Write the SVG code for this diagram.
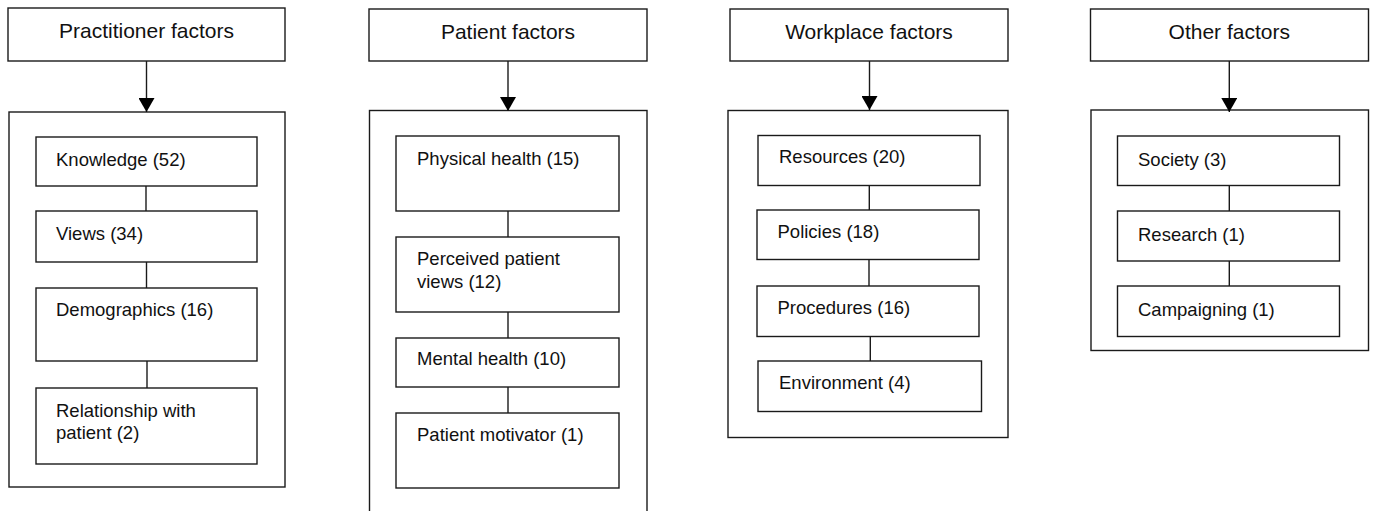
<svg xmlns="http://www.w3.org/2000/svg" width="1373" height="511" viewBox="0 0 1373 511">
<style>
rect{fill:#fff;stroke:#1a1a1a;stroke-width:1.4}
.hd{font-family:"Liberation Sans",Arial,sans-serif;font-size:21px;fill:#111;text-anchor:middle}
.it{font-family:"Liberation Sans",Arial,sans-serif;font-size:18.5px;fill:#111}
.ln{stroke:#1a1a1a;stroke-width:1.4;fill:none}
</style>
<defs>
<marker id="ah" markerUnits="userSpaceOnUse" markerWidth="14" markerHeight="16" refX="14" refY="8" orient="auto" viewBox="0 0 14 16">
<path d="M0,0 L14,8 L0,16 Z" fill="#000"/>
</marker>
</defs>
<rect width="1373" height="511" style="fill:#fff;stroke:none"/>

<g id="practitioner">
<rect x="8" y="8" width="277" height="53"/>
<text class="hd" x="146.5" y="38">Practitioner factors</text>
<rect x="9" y="112" width="276" height="375"/>
<rect x="36" y="137" width="221" height="49"/>
<text class="it" x="56" y="165.5">Knowledge (52)</text>
<rect x="36" y="211" width="221" height="51"/>
<text class="it" x="56" y="239.5">Views (34)</text>
<rect x="36" y="288" width="221" height="73"/>
<text class="it" x="56" y="316">Demographics (16)</text>
<rect x="36" y="388" width="221" height="76"/>
<text class="it" x="56" y="416.5">Relationship with</text>
<text class="it" x="56" y="439">patient (2)</text>
</g>

<g id="patient">
<rect x="369" y="9" width="278" height="52"/>
<text class="hd" x="508" y="38.5">Patient factors</text>
<rect x="369.5" y="110.5" width="277.5" height="410"/>
<rect x="396" y="136" width="223" height="75"/>
<text class="it" x="417" y="165">Physical health (15)</text>
<rect x="396" y="237" width="223" height="75"/>
<text class="it" x="417" y="264.5">Perceived patient</text>
<text class="it" x="417" y="287.5">views (12)</text>
<rect x="396" y="338" width="223" height="49"/>
<text class="it" x="417" y="365">Mental health (10)</text>
<rect x="396" y="413" width="223" height="75"/>
<text class="it" x="417" y="440.5">Patient motivator (1)</text>
</g>

<g id="workplace">
<rect x="730" y="9" width="278" height="52"/>
<text class="hd" x="869" y="38.5">Workplace factors</text>
<rect x="728" y="110.5" width="280" height="327"/>
<rect x="758" y="135.5" width="222" height="50"/>
<text class="it" x="779" y="163">Resources (20)</text>
<rect x="757" y="210" width="222" height="49.5"/>
<text class="it" x="777.5" y="237.5">Policies (18)</text>
<rect x="757" y="286" width="222" height="50.5"/>
<text class="it" x="777.5" y="314">Procedures (16)</text>
<rect x="758" y="361" width="223.5" height="50.5"/>
<text class="it" x="779" y="388.5">Environment (4)</text>
</g>

<g id="other">
<rect x="1090.5" y="9" width="278" height="52"/>
<text class="hd" x="1229.3" y="38.5">Other factors</text>
<rect x="1091" y="110" width="277.5" height="240.5"/>
<rect x="1117.5" y="136" width="222" height="49.5"/>
<text class="it" x="1138" y="165.5">Society (3)</text>
<rect x="1117.5" y="211" width="222" height="50"/>
<text class="it" x="1138" y="240.5">Research (1)</text>
<rect x="1117.5" y="286" width="222" height="50.5"/>
<text class="it" x="1138" y="315.5">Campaigning (1)</text>
</g>

<g id="connectors">
<line class="ln" x1="146.5" y1="61" x2="146.5" y2="112" marker-end="url(#ah)"/>
<line class="ln" x1="508" y1="61" x2="508" y2="111" marker-end="url(#ah)"/>
<line class="ln" x1="869.5" y1="61" x2="869.5" y2="110" marker-end="url(#ah)"/>
<line class="ln" x1="1229.3" y1="61" x2="1229.3" y2="112" marker-end="url(#ah)"/>

<line class="ln" x1="146" y1="186" x2="146" y2="211"/>
<line class="ln" x1="146.5" y1="262" x2="146.5" y2="288"/>
<line class="ln" x1="147" y1="361" x2="147" y2="388"/>

<line class="ln" x1="508" y1="211" x2="508" y2="237"/>
<line class="ln" x1="508" y1="312" x2="508" y2="338"/>
<line class="ln" x1="508" y1="387" x2="508" y2="413"/>

<line class="ln" x1="869.3" y1="185.5" x2="869.3" y2="210"/>
<line class="ln" x1="869" y1="259.5" x2="869" y2="286"/>
<line class="ln" x1="870.3" y1="336.5" x2="870.3" y2="361"/>

<line class="ln" x1="1229.3" y1="185.5" x2="1229.3" y2="211"/>
<line class="ln" x1="1229.3" y1="261" x2="1229.3" y2="286"/>
</g>
</svg>
